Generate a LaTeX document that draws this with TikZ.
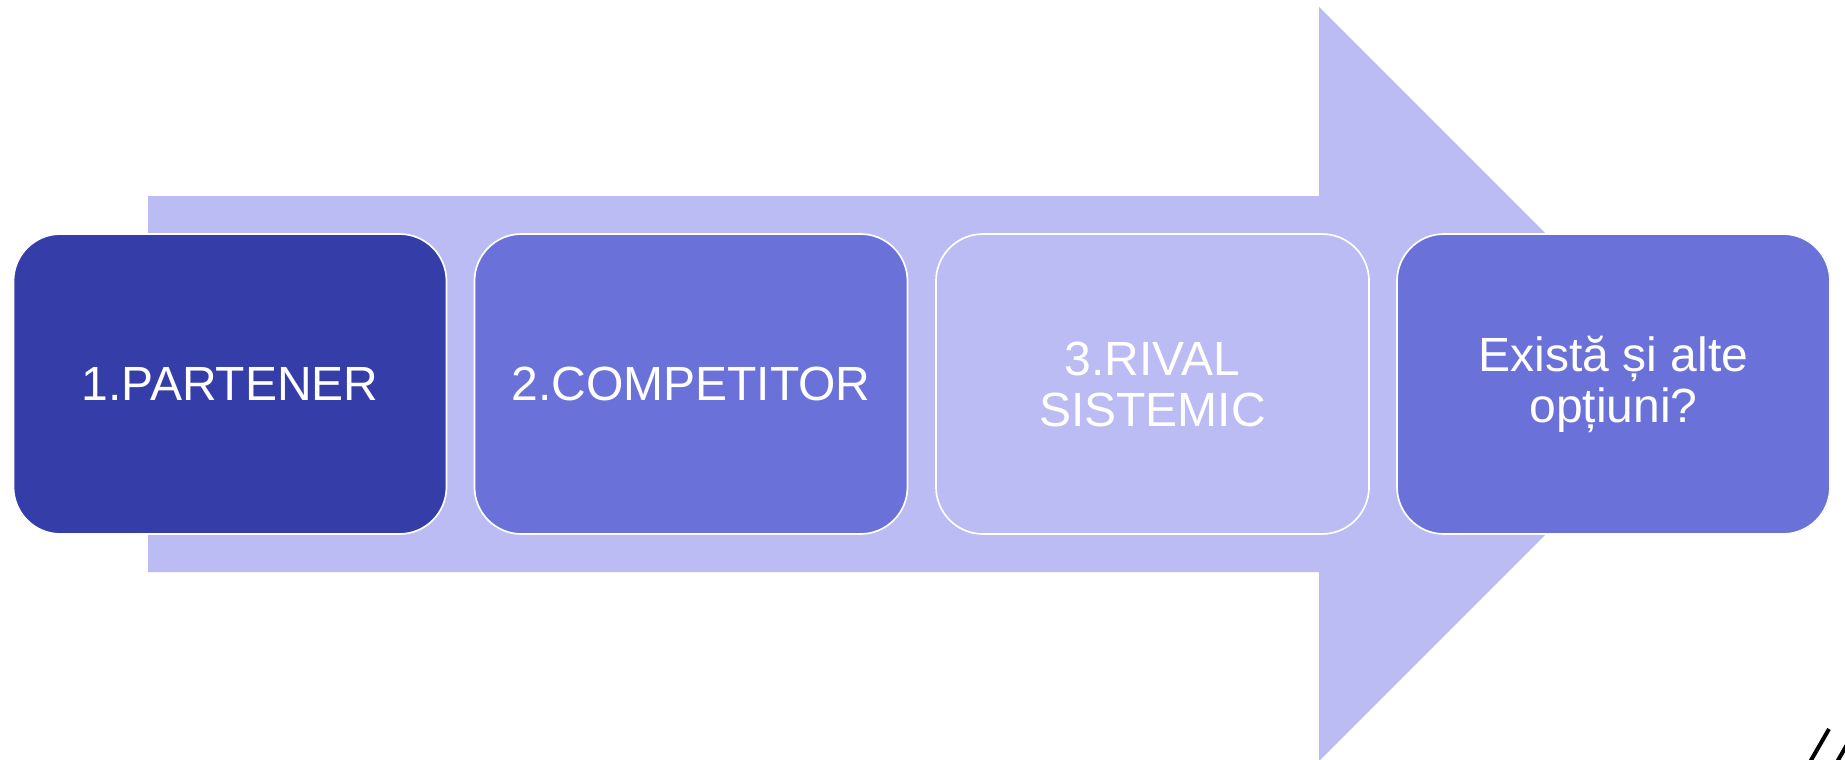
\documentclass[tikz,border=0pt]{standalone}
\usepackage{fontspec}
\setmainfont{Liberation Sans}
\definecolor{darkblue}{HTML}{353DA8}
\definecolor{midblue}{HTML}{6A72DA}
\definecolor{lightblue}{HTML}{BBBCF3}
\tikzset{
  stepbox/.style={rectangle, rounded corners=47pt, minimum width=433pt, minimum height=300pt,
    draw=white, line width=1.7pt, text=white, align=center,
    font=\fontsize{48}{51}\selectfont, inner sep=0pt},
  arrowshape/.style={fill=lightblue, draw=none}
}
\begin{document}
\begin{tikzpicture}[x=1pt,y=-1pt]
\useasboundingbox (0,0) rectangle (1845,760);
% big arrow
\fill[arrowshape] (148,196) -- (1319,196) -- (1319,7) -- (1696,384) -- (1319,761) -- (1319,572) -- (148,572) -- cycle;
% boxes
\node[stepbox, fill=darkblue] (b1) at (230,384) {1.PARTENER};
\node[stepbox, fill=midblue] (b2) at (691,384) {2.COMPETITOR};
\node[stepbox, fill=lightblue] (b3) at (1152.5,384) {3.RIVAL\\SISTEMIC};
\node[stepbox, fill=midblue] (b4) at (1613.5,384) {Există și alte\\opțiuni?};
% corner slashes
\begin{scope}
\clip (0,0) rectangle (1845,760);
\draw[line width=4pt, black] (1829,729) -- (1810,762);
\draw[line width=4pt, black] (1856,729) -- (1837,762);
\end{scope}
\end{tikzpicture}
\end{document}
